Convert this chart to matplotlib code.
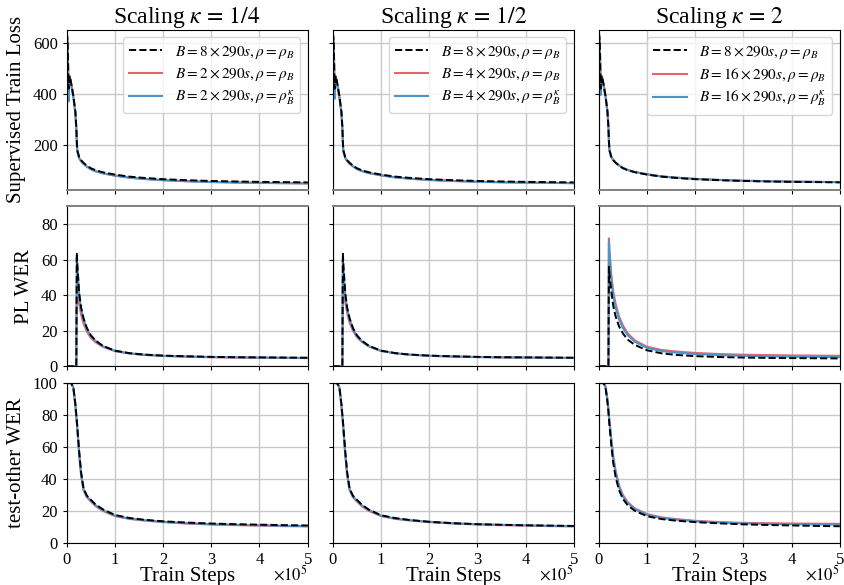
import matplotlib.pyplot as plt
import numpy as np

plt.rcParams["font.family"] = ["Liberation Serif", "DejaVu Serif"]
plt.rcParams["mathtext.fontset"] = "stix"

# train steps (x 1e5)
steps = np.array([0, 0.02, 0.04, 0.06, 0.08, 0.1, 0.14, 0.18, 0.2, 0.21, 0.22, 0.26, 0.3,
                  0.35, 0.42, 0.5, 0.6, 0.75, 1.0, 1.3, 1.6, 2.0, 2.5, 3.0, 3.5, 4.0, 4.5, 5.0]) * 1e5

titles = [r"Scaling $\kappa\,=\,1/4$", r"Scaling $\kappa\,=\,1/2$", r"Scaling $\kappa\,=\,2$"]
ylabels = ["Supervised Train Loss", "PL WER", "test-other WER"]
legend_labels = [
    [r"$B=8\times290s,\rho=\rho_B$", r"$B=2\times290s,\rho=\rho_B$", r"$B=2\times290s,\rho=\rho_B^\kappa$"],
    [r"$B=8\times290s,\rho=\rho_B$", r"$B=4\times290s,\rho=\rho_B$", r"$B=4\times290s,\rho=\rho_B^\kappa$"],
    [r"$B=8\times290s,\rho=\rho_B$", r"$B=16\times290s,\rho=\rho_B$", r"$B=16\times290s,\rho=\rho_B^\kappa$"],
]

# supervised train loss
loss_base = [640, 610, 420, 470, 455, 435, 390, 330, 270, 215, 180, 152, 140, 130, 119, 109, 101, 93, 84, 76, 71, 66, 62, 59, 57, 55.5, 54.5, 53.5]
loss_k14_red = [640, 600, 400, 465, 450, 430, 385, 325, 265, 210, 175, 148, 136, 126, 115, 105, 97, 89, 80, 72, 67, 62, 58, 55, 53, 51.5, 50.5, 49.5]
loss_k14_blue = [640, 600, 370, 470, 450, 430, 385, 325, 265, 210, 175, 148, 136, 126, 115, 105, 97, 89, 80, 72, 67, 62, 58, 55, 53, 51.5, 50.5, 49.5]
loss_k12_red = [640, 600, 410, 465, 450, 430, 385, 325, 265, 210, 175, 149, 137, 127, 116, 106, 98, 90, 81, 73, 68, 63, 59, 56, 54, 52.5, 51.5, 50.5]
loss_k12_blue = [640, 600, 380, 468, 450, 430, 385, 325, 265, 210, 175, 149, 137, 127, 116, 106, 98, 90, 81, 73, 68, 63, 59, 56, 54, 52.5, 51.5, 50.5]
loss_k2_red = [640, 605, 410, 468, 455, 435, 390, 330, 270, 215, 180, 153, 141, 131, 120, 110, 102, 94, 85, 77, 72, 67, 63, 60, 58, 56.5, 55.5, 54.5]
loss_k2_blue = [640, 605, 395, 470, 455, 435, 390, 330, 270, 215, 180, 153, 141, 131, 120, 110, 102, 94, 85, 77, 72, 67, 63, 60, 58, 56.5, 55.5, 54.5]

# PL WER
pl_base = [0, 0, 0, 0, 0, 0, 0, 0, 0, 64, 58, 41, 33, 27, 21.5, 17.5, 14.5, 11.5, 8.8, 7.4, 6.6, 6.0, 5.6, 5.3, 5.1, 5.0, 4.9, 4.8]
pl_k14_red = [0, 0, 0, 0, 0, 0, 0, 0, 0, 46, 44, 35, 29, 24, 19.5, 16, 13.5, 11, 8.5, 7.2, 6.4, 5.8, 5.4, 5.1, 4.9, 4.8, 4.7, 4.6]
pl_k14_blue = [0, 0, 0, 0, 0, 0, 0, 0, 0, 61, 56, 40, 32, 26.5, 21, 17, 14.2, 11.3, 8.7, 7.3, 6.5, 5.9, 5.5, 5.2, 5.0, 4.9, 4.8, 4.7]
pl_k12_red = [0, 0, 0, 0, 0, 0, 0, 0, 0, 48, 45, 36, 30, 24.5, 20, 16.5, 13.8, 11.2, 8.6, 7.3, 6.5, 5.9, 5.5, 5.2, 5.0, 4.9, 4.8, 4.7]
pl_k12_blue = [0, 0, 0, 0, 0, 0, 0, 0, 0, 60, 55, 40, 32, 26.5, 21, 17, 14.2, 11.3, 8.7, 7.3, 6.5, 5.9, 5.5, 5.2, 5.0, 4.9, 4.8, 4.7]
pl_k2_base = [0, 0, 0, 0, 0, 0, 0, 0, 0, 56, 52, 42, 34, 28, 22.5, 18.5, 15, 12, 9, 7.3, 6.4, 5.7, 5.2, 4.9, 4.7, 4.6, 4.5, 4.4]
pl_k2_red = [0, 0, 0, 0, 0, 0, 0, 0, 0, 72, 66, 51, 42, 35, 28, 23, 18.5, 14.5, 11, 9.2, 8.3, 7.5, 6.9, 6.5, 6.3, 6.1, 6.0, 5.9]
pl_k2_blue = [0, 0, 0, 0, 0, 0, 0, 0, 0, 70, 64, 49, 40, 33, 26.5, 21.5, 17.5, 13.8, 10.4, 8.6, 7.7, 6.9, 6.3, 5.9, 5.6, 5.4, 5.3, 5.2]

# test-other WER
wer_base = [100, 100, 100, 100, 100, 99.5, 97, 87, 80, 77, 73, 57, 44, 34, 29.5, 27, 24, 21, 17.5, 15.6, 14.5, 13.5, 12.7, 12.1, 11.7, 11.4, 11.1, 10.9]
wer_k14_red = [100, 100, 100, 100, 100, 99.5, 97, 86, 79, 75, 71, 55, 42, 33, 28.5, 26, 23, 20, 16.8, 15, 14, 13, 12.1, 11.5, 11.1, 10.8, 10.5, 10.3]
wer_k14_blue = [100, 100, 100, 100, 100, 99.5, 97, 86, 79, 76, 72, 56, 43, 33.5, 29, 26.5, 23.5, 20.5, 17, 15.2, 14.2, 13.2, 12.3, 11.7, 11.3, 11.0, 10.7, 10.5]
wer_k12_base = [100, 100, 100, 100, 100, 99.5, 97, 87, 80, 77, 73, 57, 44, 34, 29.5, 27, 24, 20.8, 17.3, 15.5, 14.3, 13.2, 12.3, 11.7, 11.3, 11.0, 10.8, 10.6]
wer_k12_red = [100, 100, 100, 100, 100, 99.5, 97, 86, 79, 75, 71, 55, 42, 33, 28.5, 26, 23, 20, 16.8, 15, 14, 13, 12.1, 11.5, 11.1, 10.8, 10.5, 10.3]
wer_k12_blue = [100, 100, 100, 100, 100, 99.5, 97, 86, 79, 76, 72, 56, 43, 33.5, 29, 26.5, 23.5, 20.5, 17, 15.2, 14.2, 13.2, 12.3, 11.7, 11.3, 11.0, 10.7, 10.5]
wer_k2_base = [100, 100, 100, 100, 100, 100, 97, 88, 82, 78, 74, 61, 50, 41, 33, 27.5, 23.5, 20, 16.7, 14.9, 13.9, 13.0, 12.2, 11.6, 11.2, 10.9, 10.6, 10.4]
wer_k2_red = [100, 100, 100, 100, 100, 100, 98, 90, 84, 80, 77, 65, 54, 45, 36, 30, 25.5, 21.5, 18, 16, 14.9, 13.8, 13.0, 12.5, 12.3, 12.1, 12.0, 11.9]
wer_k2_blue = [100, 100, 100, 100, 100, 100, 97.5, 89, 83, 79, 76, 64, 53, 44, 35, 29, 25, 21, 17.6, 15.6, 14.6, 13.5, 12.7, 12.2, 11.9, 11.7, 11.6, 11.5]

panels = [
    [(loss_base, loss_k14_red, loss_k14_blue), (loss_base, loss_k12_red, loss_k12_blue), (loss_base, loss_k2_red, loss_k2_blue)],
    [(pl_base, pl_k14_red, pl_k14_blue), (pl_base, pl_k12_red, pl_k12_blue), (pl_k2_base, pl_k2_red, pl_k2_blue)],
    [(wer_base, wer_k14_red, wer_k14_blue), (wer_k12_base, wer_k12_red, wer_k12_blue), (wer_k2_base, wer_k2_red, wer_k2_blue)],
]
ylims = [(25, 650), (0, 90), (0, 100)]
yticks = [[200, 400, 600], [0, 20, 40, 60, 80], [0, 20, 40, 60, 80, 100]]

red = "#e8636f"
blue = "#4a96cb"

fig, axes = plt.subplots(3, 3, figsize=(8.44, 5.85), dpi=100)
plt.subplots_adjust(left=0.079, right=0.995, top=0.949, bottom=0.072, wspace=0.104, hspace=0.105)

for r in range(3):
    for c in range(3):
        ax = axes[r, c]
        base, sr, sb = panels[r][c]
        ax.plot(steps, base, color="black", ls="--", lw=1.4, label=legend_labels[c][0], zorder=3)
        ax.plot(steps, sr, color=red, lw=1.5, label=legend_labels[c][1], zorder=2)
        ax.plot(steps, sb, color=blue, lw=1.5, label=legend_labels[c][2], zorder=2.5)
        ax.set_xlim(0, 5e5)
        ax.set_ylim(*ylims[r])
        ax.set_yticks(yticks[r])
        ax.set_yticklabels([str(v) for v in yticks[r]])
        ax.set_xticks(np.arange(0, 6) * 1e5)
        ax.set_xticklabels([str(i) for i in range(6)])
        ax.grid(True, color="#c8c8c8", lw=1)
        ax.set_axisbelow(True)
        ax.tick_params(labelsize=12, length=3)
        if c > 0:
            ax.set_yticklabels([])
        else:
            ax.set_ylabel(ylabels[r], fontsize=15, labelpad=5)
        if r < 2:
            ax.set_xticklabels([])
        else:
            ax.set_xlabel("Train Steps", fontsize=15, labelpad=-1)
            ax.text(1.0, -0.2, r"$\times10^5$", transform=ax.transAxes, ha="right", va="center",
                    fontsize=12)
        if r == 0:
            ax.spines["bottom"].set_color("#808080")
            ax.spines["bottom"].set_linewidth(1.4)
            ax.set_title(titles[c], fontsize=17, pad=4)
            ax.legend(loc="upper right", fontsize=11, framealpha=0.8, handlelength=2.2,
                      borderpad=0.4, labelspacing=0.35)
        if r == 1:
            ax.spines["top"].set_color("#808080")
            ax.spines["top"].set_linewidth(1.4)

plt.savefig("out.png")
